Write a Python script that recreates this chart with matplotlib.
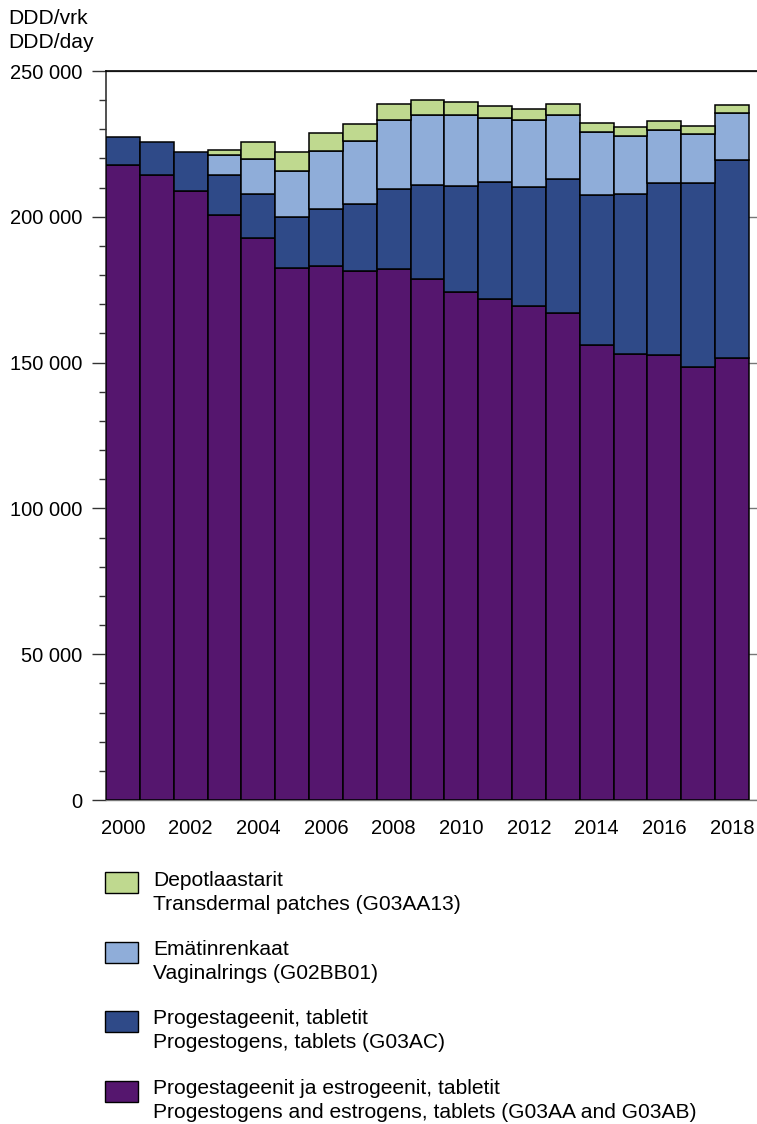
import numpy as np
import matplotlib
matplotlib.use("Agg")
import matplotlib.pyplot as plt
from matplotlib.patches import Rectangle
from matplotlib.ticker import MultipleLocator, FuncFormatter

# ---- data (DDD/day) ----
years = list(range(2000, 2019))

combined_tabs = [217600, 214300, 209000, 200500, 192800, 182400, 183000, 181300,
                 182100, 178500, 174100, 171900, 169500, 167100, 156100, 152900,
                 152600, 148500, 151700]
progestogen_tabs = [9700, 11400, 13300, 13700, 15000, 17500, 19800, 23100,
                    27400, 32300, 36500, 39900, 40800, 45700, 51500, 54800,
                    58900, 63100, 67800]
vaginal_rings = [0, 0, 0, 6900, 12100, 15900, 19700, 21600, 23600, 24000,
                 24200, 22100, 22900, 22200, 21500, 20000, 18300, 16700, 16100]
patches = [0, 0, 0, 1700, 5800, 6400, 6300, 5900, 5600, 5100, 4700, 4200,
           3600, 3600, 3200, 3100, 2900, 2800, 2600]

series = [combined_tabs, progestogen_tabs, vaginal_rings, patches]
colors = ["#55166e", "#2f4a88", "#8fadd9", "#bfd98f"]
legend_fi = ["Depotlaastarit", "Emätinrenkaat",
             "Progestageenit, tabletit", "Progestageenit ja estrogeenit, tabletit"]
legend_en = ["Transdermal patches (G03AA13)", "Vaginalrings (G02BB01)",
             "Progestogens, tablets (G03AC)",
             "Progestogens and estrogens, tablets (G03AA and G03AB)"]
legend_colors = [colors[3], colors[2], colors[1], colors[0]]

plt.rcParams["font.family"] = ["Liberation Sans", "DejaVu Sans"]
FS = 14.5      # numbers
FS_TXT = 15.1  # words

W, H = 757, 1124
fig = plt.figure(figsize=(W / 100, H / 100), dpi=100)
ax = fig.add_axes([106 / W, 1 - 800 / H, (W - 106) / W, (800 - 71) / H])

x = np.arange(len(years))
bottom = np.zeros(len(years))
for vals, col in zip(series, colors):
    vals = np.array(vals, dtype=float)
    m = vals > 0
    ax.bar(x[m], vals[m], bottom=bottom[m], width=1.0, color=col,
           edgecolor="black", linewidth=1.1, zorder=3)
    bottom += vals

ax.set_xlim(-0.5, len(years) - 0.5 + 8 / 33.9)
ax.set_ylim(0, 250000)

ax.yaxis.set_major_locator(MultipleLocator(50000))
ax.yaxis.set_minor_locator(MultipleLocator(10000))
ax.yaxis.set_major_formatter(FuncFormatter(lambda v, p: f"{int(v):,}".replace(",", " ")))
ax.tick_params(axis="y", which="major", length=10, width=1, color="#333333",
               pad=7, labelsize=FS)
ax.tick_params(axis="y", which="minor", length=5, width=1, color="#333333")
ax.yaxis.grid(True, which="major", color="#777777", linewidth=1)
ax.set_axisbelow(True)

ax.set_xticks(x[::2])
ax.set_xticklabels([str(y) for y in years[::2]])
ax.tick_params(axis="x", length=0, pad=14, labelsize=FS)

ax.spines["right"].set_visible(False)
ax.spines["top"].set_color("black")
ax.spines["top"].set_linewidth(1.2)
ax.spines["left"].set_color("#333333")
ax.spines["left"].set_linewidth(1.2)
ax.spines["bottom"].set_color("#777777")
ax.spines["bottom"].set_linewidth(1)

fig.text(8 / W, 1 - 18 / H, "DDD/vrk", fontsize=FS_TXT, va="center", ha="left")
fig.text(8 / W, 1 - 42 / H, "DDD/day", fontsize=FS_TXT, va="center", ha="left")

# legend drawn by hand to follow the two-language layout
y0 = 872
for i, (fi, en, col) in enumerate(zip(legend_fi, legend_en, legend_colors)):
    top = y0 + i * 69.5
    fig.add_artist(Rectangle((105 / W, 1 - (top + 21) / H), 33 / W, 21 / H,
                             facecolor=col, edgecolor="black", linewidth=1,
                             transform=fig.transFigure))
    fig.text(153 / W, 1 - (top + 8) / H, fi, fontsize=FS_TXT, va="center", ha="left")
    fig.text(153 / W, 1 - (top + 32) / H, en, fontsize=FS_TXT, va="center", ha="left")

fig.savefig("out.png", dpi=100)
